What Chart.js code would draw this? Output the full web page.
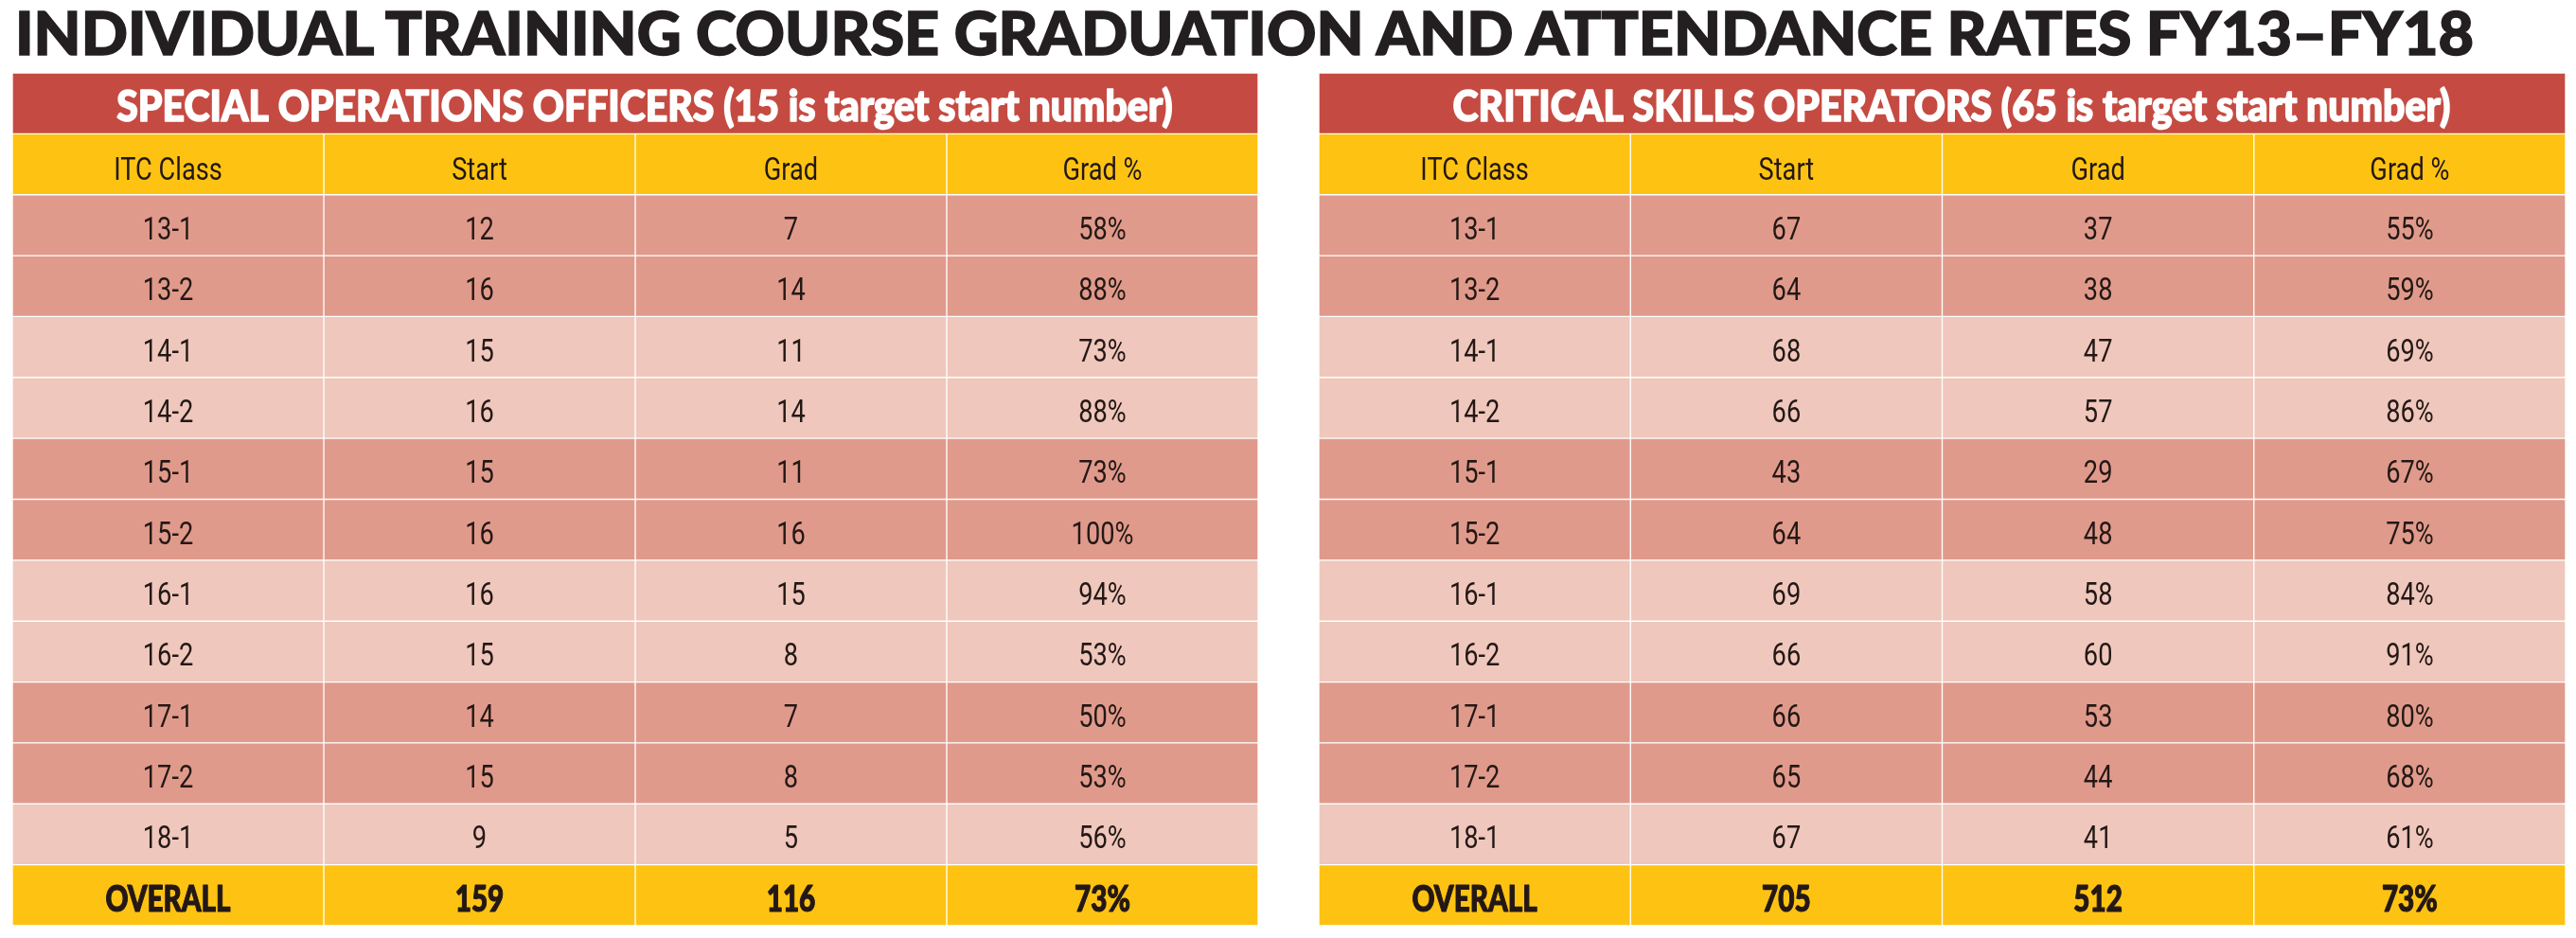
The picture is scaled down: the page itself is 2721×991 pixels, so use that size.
<!DOCTYPE html>
<html>
<head>
<meta charset="utf-8">
<script src="https://cdn.jsdelivr.net/npm/chart.js@4.4.1/dist/chart.umd.min.js"></script>
<style>
html, body { margin: 0; padding: 0; background: #fff; }
body { width: 2721px; height: 991px; position: relative; overflow: hidden; }
#titulo { position: absolute; left: 16px; top: 2px; font-family: Lato, "Noto Sans", sans-serif; font-weight: 900;
  font-size: 63px; line-height: 1; color: #231f20; white-space: nowrap; transform-origin: 0 0;
  -webkit-text-stroke: 1.5px #231f20; }
.tabla { position: absolute; top: 77px; height: 901px; }
#izq { left: 13px; width: 1316px; }
#der { left: 1393px; width: 1317px; }
</style>
</head>
<body>
<div id="titulo">INDIVIDUAL TRAINING COURSE GRADUATION AND ATTENDANCE RATES FY13–FY18</div>
<div class="tabla" id="izq"><canvas id="grafica1"></canvas></div>
<div class="tabla" id="der"><canvas id="grafica2"></canvas></div>
<script>
var clases = ['13-1', '13-2', '14-1', '14-2', '15-1', '15-2', '16-1', '16-2', '17-1', '17-2', '18-1'];
var columnas = ['ITC Class', 'Start', 'Grad', 'Grad %'];

var sooStart = [12, 16, 15, 16, 15, 16, 16, 15, 14, 15, 9];
var sooGrad = [7, 14, 11, 14, 11, 16, 15, 8, 7, 8, 5];
var sooPct = [58, 88, 73, 88, 73, 100, 94, 53, 50, 53, 56];
var sooTotal = [159, 116, 73];

var csoStart = [67, 64, 68, 66, 43, 64, 69, 66, 66, 65, 67];
var csoGrad = [37, 38, 47, 57, 29, 48, 58, 60, 53, 44, 41];
var csoPct = [55, 59, 69, 86, 67, 75, 84, 91, 80, 68, 61];
var csoTotal = [705, 512, 73];

var rojo = '#c54b42', amarillo = '#fec312', oscuro = '#e09a8b', claro = '#efc7bc';
var tinta = '#231815';

function ajustarTitulo() {
    var t = document.getElementById('titulo');
    var ancho = t.getBoundingClientRect().width;
    t.style.transform = 'scaleX(' + (2597 / ancho) + ')';
}

function crearTabla(idCanvas, encabezado, start, grad, pct, total) {
    var filas = ['titulo', 'cabecera'].concat(clases).concat(['OVERALL']);
    var ultima = filas.length - 1;

    var textos = filas.map(function (f, i) {
        if (i == 0) return [encabezado];
        if (i == 1) return columnas;
        if (i == ultima) return ['OVERALL', String(total[0]), String(total[1]), total[2] + '%'];
        var k = i - 2;
        return [clases[k], String(start[k]), String(grad[k]), pct[k] + '%'];
    });

    var colores = filas.map(function (f, i) {
        if (i == 0) return rojo;
        if (i == 1 || i == ultima) return amarillo;
        return Math.floor((i - 2) / 2) % 2 == 0 ? oscuro : claro;
    });

    var datasets = [];
    for (var c = 0; c < 4; c++) {
        (function (c) {
            datasets.push({
                data: filas.map(function (f, i) {
                    if (i == 0) return c == 0 ? [0, 4] : null;
                    return [c, c + 1];
                }),
                backgroundColor: colores,
                borderColor: '#ffffff',
                borderWidth: 1,
                borderSkipped: false,
                grouped: false,
                barPercentage: 1,
                categoryPercentage: 1
            });
        })(c);
    }

    var textoPlugin = {
        id: 'textos',
        afterDatasetsDraw: function (chart) {
            var ctx = chart.ctx;
            var ex = chart.scales.x, ey = chart.scales.y;
            ctx.save();
            ctx.textAlign = 'center';
            ctx.textBaseline = 'alphabetic';
            ctx.lineJoin = 'round';
            textos.forEach(function (fila, i) {
                var py = ey.getPixelForValue(i);
                fila.forEach(function (txt, c) {
                    var px, dy, sx, grosor = 0;
                    if (i == 0) {
                        px = ex.getPixelForValue(2) + 10;
                        ctx.font = '900 45px Lato';
                        ctx.fillStyle = '#ffffff';
                        ctx.strokeStyle = '#ffffff';
                        dy = 19; sx = 0.91; grosor = 1.6;
                    } else if (i == ultima) {
                        px = ex.getPixelForValue(c + 0.5);
                        ctx.font = '900 38px Lato';
                        ctx.fillStyle = tinta;
                        ctx.strokeStyle = tinta;
                        dy = 17; sx = 0.78; grosor = 1.2;
                    } else {
                        px = ex.getPixelForValue(c + 0.5);
                        ctx.font = '400 34px Roboto';
                        ctx.fillStyle = tinta;
                        dy = i == 1 ? 16 : 15; sx = 0.8;
                    }
                    ctx.save();
                    ctx.translate(px, py + dy);
                    ctx.scale(sx, 1);
                    if (grosor) {
                        ctx.lineWidth = grosor;
                        ctx.strokeText(txt, 0, 0);
                    }
                    ctx.fillText(txt, 0, 0);
                    ctx.restore();
                });
            });
            ctx.restore();
        }
    };

    return new Chart(document.getElementById(idCanvas).getContext('2d'), {
        type: 'bar',
        data: { labels: filas, datasets: datasets },
        options: {
            indexAxis: 'y',
            responsive: true,
            maintainAspectRatio: false,
            animation: false,
            events: [],
            layout: { padding: 0 },
            plugins: { legend: { display: false }, tooltip: { enabled: false }, title: { display: false } },
            scales: {
                x: { type: 'linear', min: 0, max: 4, display: false },
                y: { display: false, offset: true }
            }
        },
        plugins: [textoPlugin]
    });
}

function inicializar() {
    ajustarTitulo();
    crearTabla('grafica1', 'SPECIAL OPERATIONS OFFICERS (15 is target start number)', sooStart, sooGrad, sooPct, sooTotal);
    crearTabla('grafica2', 'CRITICAL SKILLS OPERATORS (65 is target start number)', csoStart, csoGrad, csoPct, csoTotal);
}

if (document.fonts && document.fonts.load) {
    Promise.all([
        document.fonts.load('900 45px Lato'),
        document.fonts.load('400 34px Roboto')
    ]).then(inicializar, inicializar);
} else {
    inicializar();
}
</script>
</body>
</html>
